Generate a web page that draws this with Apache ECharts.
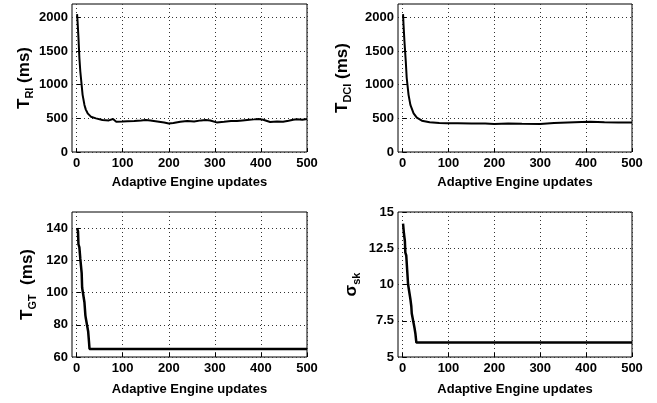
<!DOCTYPE html>
<html>
<head>
<meta charset="utf-8">
<script src="https://cdn.jsdelivr.net/npm/echarts@6/dist/echarts.min.js"></script>
<style>
  html, body { margin: 0; padding: 0; background: #fff; }
  #chart { width: 657px; height: 403px; }
</style>
</head>
<body>
<div id="chart"></div>
<script>
// x ticks shared by all four panels
const xTicks = [0, 100, 200, 300, 400, 500];

// T_RI (ms)
const riX = [1, 2, 4, 6, 8, 10, 13, 17, 20, 24, 31, 42, 56, 70, 79, 86, 100, 110, 125, 140, 150, 160, 175, 190, 200, 210, 225, 240, 255, 270, 280, 290, 304, 320, 335, 348, 360, 375, 385, 395, 405, 420, 435, 448, 460, 470, 478, 490, 500];
const riY = [2050, 1950, 1700, 1400, 1200, 1060, 850, 700, 630, 575, 525, 500, 476, 470, 490, 451, 452, 456, 462, 470, 476, 468, 455, 440, 425, 430, 450, 461, 455, 470, 476, 468, 440, 450, 462, 461, 470, 480, 485, 491, 480, 446, 455, 451, 465, 478, 486, 480, 491];
const riTicks = [0, 500, 1000, 1500, 2000];

// T_DCI (ms)
const dciX = [1, 2, 4, 7, 9, 13, 17, 24, 31, 42, 59, 80, 96, 120, 150, 180, 200, 230, 260, 300, 330, 360, 390, 410, 440, 470, 500];
const dciY = [2050, 1900, 1650, 1340, 1100, 850, 700, 575, 510, 466, 441, 430, 426, 428, 422, 425, 418, 424, 420, 418, 432, 440, 446, 448, 442, 440, 438];
const dciTicks = [0, 500, 1000, 1500, 2000];

// T_GT (ms)
const gtX = [1, 3, 4, 6, 8, 10, 11, 12, 15, 17, 19, 20, 23, 25, 27, 28, 32, 500];
const gtY = [140, 138, 130, 128, 121, 120, 112, 103, 102, 94, 86, 84, 84, 76, 69, 65, 65, 65];
const gtTicks = [60, 80, 100, 120, 140];

// sigma_sk
const skX = [1, 3, 5, 6, 8, 10, 12, 15, 17, 19, 20, 24, 26, 28, 30, 500];
const skY = [14.2, 13.5, 13, 12.2, 12, 11, 10, 10, 9, 8.5, 8, 8, 7, 6.6, 6, 6];
const skTicks = [5, 7.5, 10, 12.5, 15];

const pair = (xs, ys) => xs.map((x, i) => [x, ys[i]]);

const font = 'Liberation Sans, Arial, Helvetica, sans-serif';
const nameRich = {
  t: { fontSize: 17, fontWeight: 'bold', fontFamily: font, color: '#000', lineHeight: 22, verticalAlign: 'middle' },
  s: { fontSize: 11, fontWeight: 'bold', fontFamily: font, color: '#000', lineHeight: 12, verticalAlign: 'bottom' }
};

const grids = [
  { left: 72, top: 4, width: 235, height: 148 },
  { left: 398, top: 4, width: 234, height: 148 },
  { left: 72, top: 212, width: 235, height: 145 },
  { left: 398, top: 212, width: 234, height: 145 }
];

const plain = v => String(v);

function xAxisFor(i, gap) {
  return {
    type: 'value', gridIndex: i, min: -10, max: 500,
    name: 'Adaptive Engine updates', nameLocation: 'middle', nameGap: gap,
    nameTextStyle: { fontSize: 13, fontWeight: 'bold', fontFamily: font, color: '#000' },
    axisLine: { show: false },
    axisTick: { show: true, inside: true, length: 4, customValues: xTicks, lineStyle: { color: '#000' } },
    axisLabel: { customValues: xTicks, fontSize: 13, fontWeight: 'bold', fontFamily: font, color: '#000', margin: 5, formatter: plain },
    splitLine: { show: true, lineStyle: { color: '#333', type: [1, 3], width: 1 } }
  };
}

function yAxisFor(i, min, max, ticks, name, gap) {
  return {
    type: 'value', gridIndex: i, min: min, max: max,
    name: name, nameLocation: 'middle', nameGap: gap, nameRotate: 90,
    nameTextStyle: { rich: nameRich },
    axisLine: { show: false },
    axisTick: { show: true, inside: true, length: 4, customValues: ticks, lineStyle: { color: '#000' } },
    axisLabel: { customValues: ticks, fontSize: 13, fontWeight: 'bold', fontFamily: font, color: '#000', margin: 4, formatter: plain },
    splitLine: { show: true, lineStyle: { color: '#333', type: [1, 3], width: 1 } }
  };
}

function lineSeries(i, data, w) {
  return {
    type: 'line', xAxisIndex: i, yAxisIndex: i, data: data,
    showSymbol: false, symbol: 'none', animation: false,
    lineStyle: { color: '#000', width: w }
  };
}

const option = {
  backgroundColor: '#fff',
  animation: false,
  grid: grids.map(g => Object.assign({ show: true, borderColor: '#000', borderWidth: 1, backgroundColor: '#fff' }, g)),
  xAxis: [xAxisFor(0, 24), xAxisFor(1, 24), xAxisFor(2, 26), xAxisFor(3, 26)],
  yAxis: [
    yAxisFor(0, 0, 2200, riTicks, '{t|T}{s|RI}{t| (ms)}', 37),
    yAxisFor(1, 0, 2200, dciTicks, '{t|T}{s|DCI}{t| (ms)}', 45),
    yAxisFor(2, 60, 150, gtTicks, '{t|T}{s|GT}{t|  (ms)}', 34),
    yAxisFor(3, 5, 15, skTicks, '{t|σ}{s|sk}', 36)
  ],
  series: [
    lineSeries(0, pair(riX, riY), 2),
    lineSeries(1, pair(dciX, dciY), 2),
    lineSeries(2, pair(gtX, gtY), 2.5),
    lineSeries(3, pair(skX, skY), 2.5)
  ]
};

const chart = echarts.init(document.getElementById('chart'));
chart.setOption(option);
</script>
</body>
</html>
